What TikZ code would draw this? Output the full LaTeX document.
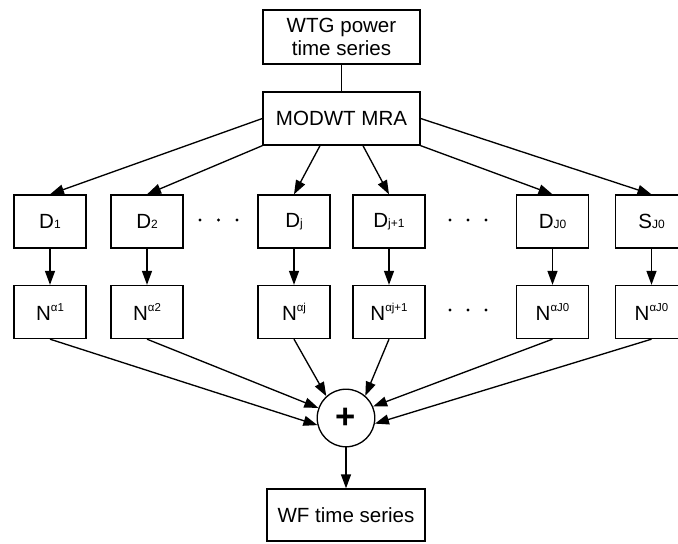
\documentclass[tikz,border=0pt]{standalone}
\usepackage{fontspec}
\setmainfont{Liberation Sans}
\usetikzlibrary{arrows.meta}
\newcommand{\boxfont}{\fontsize{15.4}{17.5}\selectfont}
\newcommand{\dsub}[1]{\raisebox{-0.3pt}{\fontsize{9}{9}\selectfont #1}}
\newcommand{\nsup}[1]{\raisebox{6.8pt}{\fontsize{8.6}{8.6}\selectfont #1}}

\begin{document}
\begin{tikzpicture}[x=0.75pt,y=-0.75pt,
  box/.style={draw, line width=1pt, inner sep=0pt, minimum width=54pt,
    minimum height=39.75pt, font=\boxfont, align=center},
  wide/.style={box, minimum width=117.75pt},
  sumnode/.style={draw, circle, line width=1pt, minimum size=43.2pt, inner sep=0pt,
    font=\fontsize{26}{26}\selectfont\bfseries},
  conn/.style={line width=1pt, -{Triangle[length=10.5pt,width=7.5pt]}},
  link/.style={line width=1pt}]
\useasboundingbox (0,0) rectangle (678,543);

% source and decomposition
\node[wide, minimum height=40.5pt] (wtg) at (341.5,37) {WTG power\\time series};
\node[wide] (mra) at (341.5,118.5) {MODWT MRA};

% detail and smooth components
\node[box] (d1) at (50,221.5)  {D\dsub{1}};
\node[box] (d2) at (147,221.5) {D\dsub{2}};
\node[box] (dj) at (294,221.5) {D\dsub{j}};
\node[box] (dk) at (389,221.5) {D\dsub{j+1}};
\node[box] (dJ) at (552.5,221.5) {D\dsub{J0}};
\node[box] (ds) at (651.5,221.5) {S\dsub{J0}};

% nonlinear blocks
\node[box] (n1) at (50,312)  {N\nsup{α1}};
\node[box] (n2) at (147,312) {N\nsup{α2}};
\node[box] (nj) at (294,312) {N\nsup{αj}};
\node[box] (nk) at (389,312) {N\nsup{αj+1}};
\node[box] (nJ) at (552.5,312) {N\nsup{αJ0}};
\node[box] (ns) at (651.5,312) {N\nsup{αJ0}};

% summation and output
\node[sumnode] (sum) at (346,418) {+};
\node[box, minimum width=118.5pt, minimum height=39pt] (wf) at (346,515) {WF time series};

% ellipses between columns
\foreach \x in {200,218.5,237,450,468,486}
  \fill (\x,220) circle[radius=1.3pt];
\foreach \x in {450,468,486}
  \fill (\x,310) circle[radius=1.3pt];

% connectors
\draw[link] (wtg) -- (mra);
\draw[conn] (mra.west) -- (d1.north);
\draw[conn] (mra.south west) -- (d2.north);
\draw[conn] ([xshift=-16.1pt]mra.south) -- (dj.north);
\draw[conn] ([xshift=16.1pt]mra.south) -- (dk.north);
\draw[conn] (mra.south east) -- (dJ.north);
\draw[conn] (mra.east) -- (ds.north);

\foreach \a/\b in {d1/n1,d2/n2,dj/nj,dk/nk,dJ/nJ,ds/ns}
  \draw[conn] (\a) -- (\b);

\draw[conn] (n1.south) -- (sum.194);
\draw[conn] (n2.south) -- (sum.160);
\draw[conn] (nj.south) -- (sum.132);
\draw[conn] (nk.south) -- (sum.49);
\draw[conn] (nJ.south) -- (sum.23);
\draw[conn] (ns.south) -- (sum.-11);
\draw[conn] (sum) -- (wf);
\end{tikzpicture}
\end{document}
